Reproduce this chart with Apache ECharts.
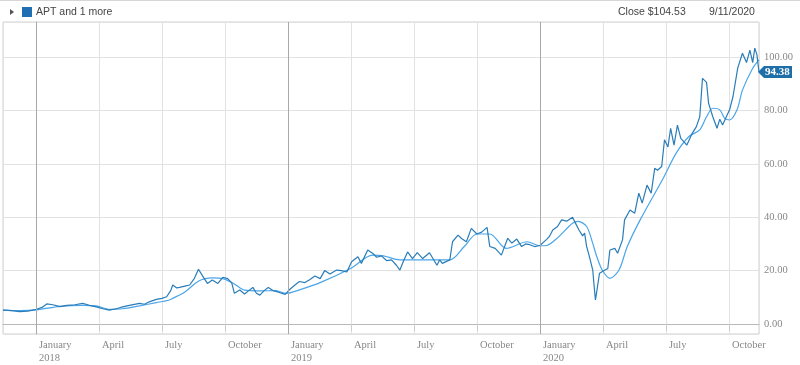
<!DOCTYPE html>
<html><head><meta charset="utf-8">
<script src="https://cdn.jsdelivr.net/npm/echarts@6/dist/echarts.min.js"></script>
<style>html,body{margin:0;padding:0;background:#fff}#c{width:800px;height:365px}</style>
</head><body><div id="c"></div>
<script>
const priceDates = ['2017-11-14','2017-11-27','2017-12-08','2017-12-20','2018-01-02','2018-01-10','2018-01-17','2018-01-26','2018-02-05','2018-02-14','2018-02-25','2018-03-08','2018-03-18','2018-03-28','2018-04-08','2018-04-16','2018-04-27','2018-05-05','2018-05-15','2018-05-30','2018-06-06','2018-06-13','2018-06-23','2018-07-01','2018-07-08','2018-07-14','2018-07-17','2018-07-23','2018-07-27','2018-08-04','2018-08-11','2018-08-18','2018-08-24','2018-08-30','2018-09-06','2018-09-13','2018-09-21','2018-09-28','2018-10-05','2018-10-11','2018-10-15','2018-10-23','2018-10-30','2018-11-05','2018-11-11','2018-11-16','2018-11-21','2018-11-27','2018-12-03','2018-12-10','2018-12-17','2018-12-28','2019-01-04','2019-01-11','2019-01-18','2019-01-26','2019-02-02','2019-02-09','2019-02-16','2019-02-22','2019-03-01','2019-03-11','2019-03-18','2019-03-26','2019-04-02','2019-04-11','2019-04-16','2019-04-25','2019-05-02','2019-05-08','2019-05-15','2019-05-23','2019-05-30','2019-06-06','2019-06-11','2019-06-16','2019-06-22','2019-06-29','2019-07-06','2019-07-14','2019-07-24','2019-07-28','2019-08-04','2019-08-08','2019-08-12','2019-08-23','2019-08-27','2019-09-04','2019-09-09','2019-09-16','2019-09-23','2019-10-01','2019-10-08','2019-10-16','2019-10-20','2019-10-28','2019-11-06','2019-11-15','2019-11-21','2019-11-28','2019-12-05','2019-12-11','2019-12-17','2019-12-24','2020-01-01','2020-01-11','2020-01-15','2020-01-20','2020-01-27','2020-02-02','2020-02-09','2020-02-17','2020-02-22','2020-02-26','2020-03-02','2020-03-05','2020-03-08','2020-03-12','2020-03-17','2020-03-20','2020-03-21','2020-03-24','2020-03-27','2020-04-04','2020-04-08','2020-04-11','2020-04-18','2020-04-22','2020-04-29','2020-05-02','2020-05-10','2020-05-17','2020-05-23','2020-05-28','2020-06-04','2020-06-10','2020-06-15','2020-06-19','2020-06-25','2020-06-29','2020-07-04','2020-07-08','2020-07-13','2020-07-18','2020-07-23','2020-08-01','2020-08-08','2020-08-15','2020-08-20','2020-08-24','2020-08-30','2020-09-02','2020-09-08','2020-09-14','2020-09-18','2020-09-22','2020-09-28','2020-10-02','2020-10-07','2020-10-14','2020-10-21','2020-10-27','2020-11-01','2020-11-05','2020-11-08','2020-11-11','2020-11-14'];
const priceValues = [5.2,5.0,4.6,4.8,5.5,6.2,7.5,7.2,6.5,7.0,7.2,7.7,7.0,6.4,5.6,5.2,5.8,6.4,7.0,7.7,7.4,8.3,9.2,9.6,10.2,12.5,14.6,13.5,13.7,14.2,14.6,17.1,20.5,18.0,15.2,16.5,15.2,17.5,17.0,15.5,11.5,12.7,11.2,12.5,13.7,11.5,10.8,12.5,13.7,12.5,12.0,11.1,13.0,14.5,15.9,15.5,16.6,18.0,17.0,20.0,18.7,20.2,20.0,19.5,23.3,25.2,22.7,27.7,26.5,25.0,25.5,23.7,24.0,22.0,20.2,23.5,27.0,24.5,26.7,24.5,26.7,25.0,22.0,24.0,22.7,24.0,30.8,33.3,32.0,30.8,35.8,33.7,34.4,36.2,29.0,28.3,25.8,32.1,30.3,31.8,29.0,30.0,29.7,29.0,29.4,31.7,32.8,35.2,36.5,39.0,38.5,40.0,37.3,35.2,33.0,34.0,29.0,25.3,20.2,11.5,9.0,14.0,19.0,20.2,20.8,27.7,28.3,26.5,31.5,39.0,42.7,41.5,49.0,45.3,52.0,49.0,58.3,57.6,59.0,69.0,66.3,73.3,67.0,74.5,69.5,67.0,71.0,73.9,77.6,92.0,90.5,82.6,77.6,73.3,76.7,74.5,78.0,80.2,85.1,95.8,101.4,97.9,102.6,97.9,103.3,100.9,94.38];
const maDates = ['2017-11-14','2017-12-08','2018-01-02','2018-02-05','2018-03-08','2018-03-28','2018-04-16','2018-05-05','2018-05-30','2018-06-23','2018-07-12','2018-07-17','2018-08-04','2018-08-25','2018-09-13','2018-09-28','2018-10-15','2018-10-30','2018-11-21','2018-12-13','2018-12-30','2019-01-18','2019-02-16','2019-04-01','2019-05-02','2019-05-18','2019-06-11','2019-07-17','2019-08-23','2019-09-13','2019-10-01','2019-10-20','2019-11-13','2019-12-13','2020-01-01','2020-01-11','2020-01-25','2020-02-17','2020-02-25','2020-03-08','2020-03-17','2020-03-23','2020-03-31','2020-04-11','2020-04-24','2020-05-06','2020-05-25','2020-06-26','2020-07-16','2020-08-04','2020-08-20','2020-08-30','2020-09-08','2020-09-18','2020-09-25','2020-10-02','2020-10-13','2020-10-21','2020-11-05','2020-11-14'];
const maValues = [5.2,5.0,5.3,6.6,7.0,6.8,5.5,5.7,6.8,8.0,9.0,9.6,12.0,16.2,17.3,17.0,15.0,12.7,12.4,12.5,11.5,12.8,15.5,20.9,25.8,25.5,24.0,24.0,24.0,29.0,33.7,33.7,28.3,30.8,29.3,29.4,31.8,37.7,38.4,36.5,30.2,25.2,20.2,17.1,20.2,29.0,39.0,54.0,63.9,70.2,72.7,77.6,80.8,80.2,77.0,76.4,80.2,87.6,95.8,98.9];
const yTickValues = [0,20,40,60,80,100];
const monthNames = {0:'January',3:'April',6:'July',9:'October'};
const yearStarts = ['2018-01-01','2019-01-01','2020-01-01'];
const xStart = '2017-11-14', xEnd = '2020-11-14';
const headerTitle = 'APT and 1 more', closeText = 'Close $104.53', dateText = '9/11/2020';

function mi(s){const p=s.split('-').map(Number);const dim=new Date(p[0],p[1],0).getDate();return (p[0]-2018)*12+(p[1]-1)+(p[2]-1)/dim;}
const priceData = priceDates.map((d,i)=>[mi(d),priceValues[i]]);
const maData = maDates.map((d,i)=>[mi(d),maValues[i]]);

const chart = echarts.init(document.getElementById('c'));
const serif = 'Liberation Serif';
chart.setOption({
  animation:false,
  grid:{left:3,right:41,top:22,bottom:31,show:true,borderColor:'#d0d0d0',borderWidth:1},
  xAxis:{type:'value',min:mi(xStart),max:mi(xEnd),splitNumber:12,
    axisLine:{show:true,lineStyle:{color:'#b8b8b8'}},
    axisTick:{show:true,length:7,lineStyle:{color:'#ccc'}},
    splitLine:{show:true,lineStyle:{color:'#e2e2e2'}},
    axisLabel:{align:'left',margin:5,padding:[0,0,0,3],fontFamily:serif,fontSize:10.5,color:'#888',lineHeight:13,showMinLabel:false,showMaxLabel:false,
      formatter:v=>{const r=Math.round(v);if(Math.abs(v-r)>1e-6||r%3!==0)return '';const q=((r%12)+12)%12;return q===0?('January\n'+(2018+r/12)):monthNames[q];}}},
  yAxis:{type:'value',position:'right',min:-3.75,max:113.1,splitNumber:5,
    axisLine:{show:true,lineStyle:{color:'#b8b8b8'}},
    axisTick:{show:false},
    splitLine:{show:true,lineStyle:{color:'#e2e2e2'}},
    axisLabel:{margin:5,fontFamily:serif,fontSize:10.5,color:'#888',showMinLabel:false,showMaxLabel:false,
      formatter:v=>yTickValues.indexOf(Math.round(v*1000)/1000)>=0?v.toFixed(2):''}},
  series:[
    {type:'line',data:[],z:1,silent:true,
      markLine:{silent:true,symbol:'none',label:{show:false},lineStyle:{color:'#a8a8a8',type:'solid',width:1},
        data:yearStarts.map(d=>({xAxis:mi(d)}))}},
    {type:'line',data:maData,z:2,showSymbol:false,smooth:0.3,lineStyle:{color:'#4aa5ea',width:1.2},itemStyle:{color:'#4aa5ea'}},
    {type:'line',data:priceData,z:3,showSymbol:false,lineStyle:{color:'#2a7db8',width:1.2},itemStyle:{color:'#2a7db8'}}
  ]
});
const last = priceData[priceData.length-1];
const p = chart.convertToPixel({xAxisIndex:0,yAxisIndex:0},last);
const tx = 758, ty = p[1];
chart.setOption({graphic:[
  {type:'line',shape:{x1:0,y1:0.5,x2:800,y2:0.5},style:{stroke:'#d6d6d6',lineWidth:1}},
  {type:'polygon',shape:{points:[[10,9],[14,12],[10,15]]},style:{fill:'#555'}},
  {type:'rect',shape:{x:22,y:7,width:10,height:10},style:{fill:'#1f6fb2'}},
  {type:'text',x:36,y:12,style:{text:headerTitle,fontFamily:'Liberation Sans',fontSize:10.5,fill:'#444',verticalAlign:'middle'}},
  {type:'text',x:618,y:12,style:{text:closeText,fontFamily:'Liberation Sans',fontSize:10.5,fill:'#444',verticalAlign:'middle'}},
  {type:'text',x:709,y:12,style:{text:dateText,fontFamily:'Liberation Sans',fontSize:10.5,fill:'#444',verticalAlign:'middle'}},
  {type:'polygon',z:100,shape:{points:[[tx,ty],[tx+6,ty-6],[tx+34,ty-6],[tx+34,ty+6],[tx+6,ty+6]]},style:{fill:'#1e6ea8'}},
  {type:'text',z:101,x:tx+7,y:ty,style:{text:last[1].toFixed(2),fontFamily:serif,fontWeight:'bold',fontSize:11,fill:'#fff',verticalAlign:'middle'}}
]});
</script></body></html>
